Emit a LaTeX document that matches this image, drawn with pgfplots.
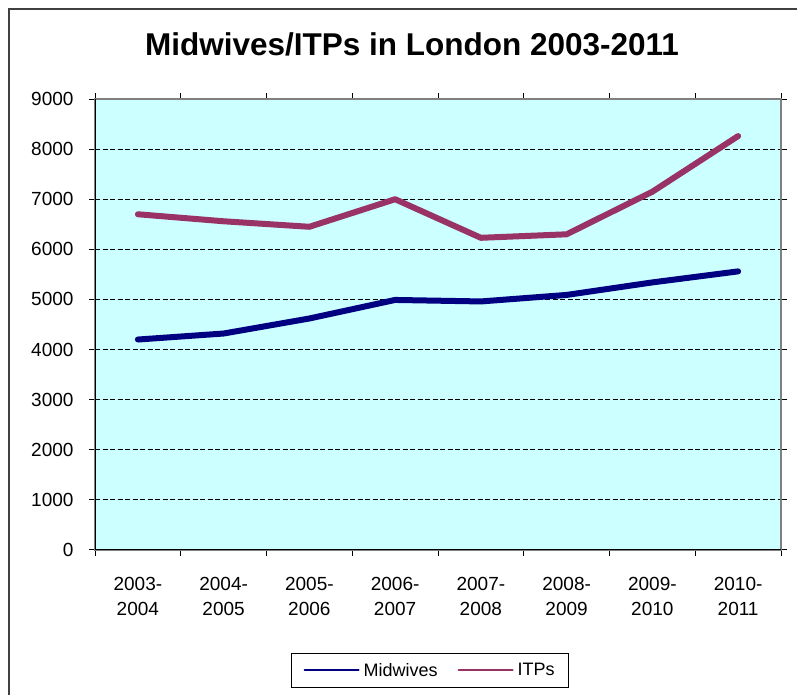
\documentclass[border=0pt]{standalone}
\usepackage{pgfplots}
\pgfplotsset{compat=1.18}
\usepackage{fontspec}
\setmainfont{Liberation Sans}
\definecolor{midw}{HTML}{000080}
\definecolor{itps}{HTML}{993366}
\definecolor{plotbg}{HTML}{CCFFFF}
\definecolor{bordergray}{HTML}{808080}
\begin{document}
\begin{tikzpicture}
\useasboundingbox (0pt,0pt) rectangle (797pt,695pt);
\draw[black!75, line width=1.5pt] (9pt,0pt) -- (9pt,686pt) -- (797pt,686pt);
\node[font=\fontsize{31.5}{36}\selectfont\bfseries] at (412pt,651pt) {Midwives/ITPs in London 2003-2011};
\begin{axis}[
  at={(95pt,145pt)}, anchor=south west,
  scale only axis, width=686pt, height=451pt,
  xmin=-0.5, xmax=7.5, ymin=0, ymax=9000,
  axis background/.style={fill=plotbg},
  axis line style={bordergray, line width=1.5pt},
  xtick={0,...,7},
  xticklabels={{2003-\\2004},{2004-\\2005},{2005-\\2006},{2006-\\2007},{2007-\\2008},{2008-\\2009},{2009-\\2010},{2010-\\2011}},
  minor xtick={-0.5,0.5,...,7.5},
  major x tick style={draw=none},
  minor x tick style={black, line width=1pt},
  minor tick length=6pt,
  ytick={0,1000,...,9000},
  y tick style={black, line width=1pt},
  major tick length=6pt,
  tick align=outside,
  ymajorgrids,
  major grid style={black, line width=0.8pt, dash pattern=on 5pt off 2.5pt},
  scaled y ticks=false,
  /pgf/number format/assume math mode=true,
  y tick label style={font=\fontsize{19}{22}\selectfont, /pgf/number format/1000 sep={}, xshift=-12pt},
  x tick label style={font=\fontsize{19}{24.5}\selectfont, align=center, yshift=-18pt},
  legend columns=2,
  legend style={at={(rel axis cs:0.4885,-0.267)}, anchor=center, draw=black, line width=1pt,
    font=\fontsize{18}{21}\selectfont, inner xsep=12pt, inner ysep=8pt,
    /tikz/every odd column/.append style={column sep=2pt},
    /tikz/every even column/.append style={column sep=18pt}},
  legend image code/.code={\draw[#1, line width=2pt] (0pt,0pt) -- (54pt,0pt);},
]
\addplot[midw, line width=6pt, line join=round, line cap=round] coordinates {
 (0,4200) (1,4320) (2,4620) (3,4990) (4,4960) (5,5090) (6,5340) (7,5560)};
\addlegendentry{Midwives}
\addplot[itps, line width=6pt, line join=round, line cap=round] coordinates {
 (0,6700) (1,6560) (2,6450) (3,7000) (4,6230) (5,6300) (6,7150) (7,8260)};
\addlegendentry{ITPs}
\draw[black, line width=2pt] (rel axis cs:0,1) -- (rel axis cs:0,0) -- (rel axis cs:1,0);
\end{axis}
\end{tikzpicture}
\end{document}
